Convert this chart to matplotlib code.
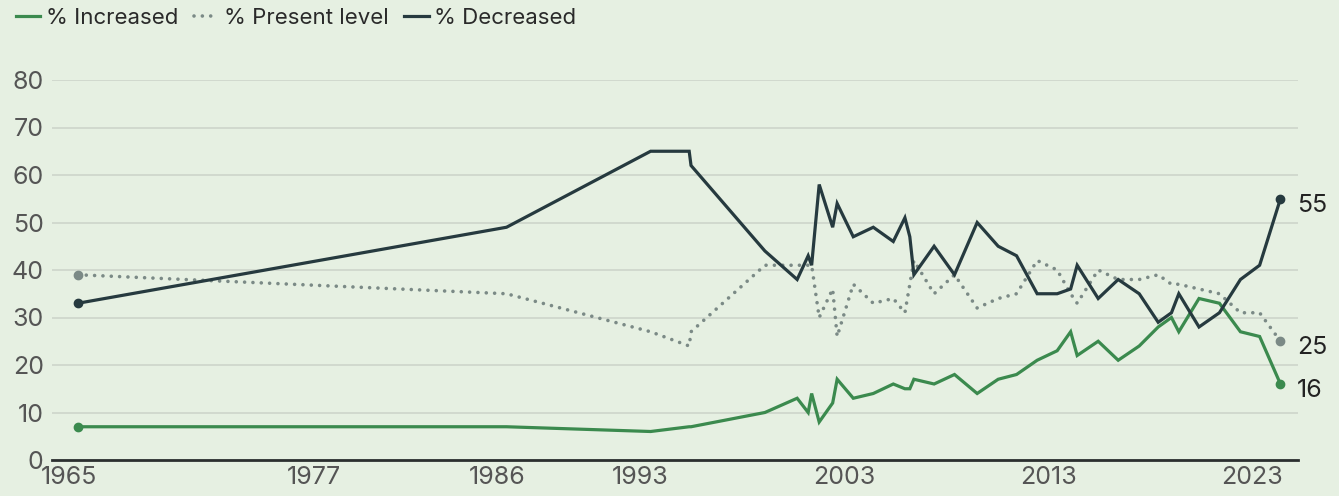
import matplotlib
matplotlib.use('Agg')
import matplotlib.pyplot as plt
from matplotlib.lines import Line2D

plt.rcParams['font.family'] = ['Inter', 'DejaVu Sans']

# survey dates as decimal years
years = [1965.45, 1986.45, 1993.51, 1995.40, 1995.49, 1999.11, 2000.69, 2001.23, 2001.40, 2001.77,
         2002.43, 2002.65, 2003.44, 2004.42, 2005.40, 2005.97, 2006.21, 2006.41, 2007.40, 2008.40,
         2009.51, 2010.54, 2011.44, 2012.45, 2013.43, 2014.09, 2014.41, 2015.44, 2016.42, 2017.45,
         2018.38, 2019.03, 2019.39, 2020.38, 2021.38, 2022.41, 2023.35, 2024.37]
increased = [7, 7, 6, 7, 7, 10, 13, 10, 14, 8,
             12, 17, 13, 14, 16, 15, 15, 17, 16, 18,
             14, 17, 18, 21, 23, 27, 22, 25, 21, 24,
             28, 30, 27, 34, 33, 27, 26, 16]
present = [39, 35, 27, 24, 27, 41, 41, 41, 41, 30,
           36, 26, 37, 33, 34, 31, 37, 42, 35, 39,
           32, 34, 35, 42, 40, 35, 33, 40, 38, 38,
           39, 37, 37, 36, 35, 31, 31, 25]
decreased = [33, 49, 65, 65, 62, 44, 38, 43, 41, 58,
             49, 54, 47, 49, 46, 51, 47, 39, 45, 39,
             50, 45, 43, 35, 35, 36, 41, 34, 38, 35,
             29, 31, 35, 28, 31, 38, 41, 55]

tick_years = [1965, 1977, 1986, 1993, 2003, 2013, 2023]
y_ticks = [0, 10, 20, 30, 40, 50, 60, 70, 80]

bg = '#e6f0e2'
c_inc = '#3b8a4e'
c_pres = '#7b8a86'
c_dec = '#263a3f'

fig = plt.figure(figsize=(13.39, 4.96), dpi=100, facecolor=bg)
ax = fig.add_axes([52 / 1339, 36 / 496, 1246 / 1339, 380 / 496])
ax.set_facecolor(bg)

ax.plot(years, present, color=c_pres, lw=2.6, linestyle=(0, (0.01, 2.3)),
        dash_capstyle='round', zorder=3)
ax.plot(years, increased, color=c_inc, lw=2.3, zorder=4, solid_joinstyle='miter')
ax.plot(years, decreased, color=c_dec, lw=2.3, zorder=5, solid_joinstyle='miter')

# end dots and start dots
for vals, col in [(present, c_pres), (increased, c_inc), (decreased, c_dec)]:
    ax.plot([years[0], years[-1]], [vals[0], vals[-1]], 'o', color=col, ms=6,
            zorder=6, clip_on=False)
    ax.annotate(str(vals[-1]), (years[-1], vals[-1]), xytext=(12, -4.5),
                textcoords='offset points', va='center', ha='left',
                fontsize=18, color='#222222')

ax.set_xlim(1964.18, 2025.23)
ax.set_ylim(0, 80)
ax.set_yticks(y_ticks)
ax.set_xticks(tick_years)
ax.set_xticklabels([str(y) for y in tick_years])
ax.tick_params(axis='both', length=0, labelsize=18, labelcolor='#555555')
ax.tick_params(axis='y', pad=6)
ax.tick_params(axis='x', pad=4)
ax.grid(axis='y', color='#cdd5ca', lw=1.2)
ax.set_axisbelow(True)
for s in ['top', 'right', 'left']:
    ax.spines[s].set_visible(False)
ax.spines['bottom'].set_color('#2b2f2f')
ax.spines['bottom'].set_linewidth(2)
ax.spines['bottom'].set_zorder(7)

handles = [
    Line2D([], [], color=c_inc, lw=2.3),
    Line2D([], [], color=c_pres, lw=2.6, linestyle=(0, (0.01, 2.3)), dash_capstyle='round'),
    Line2D([], [], color=c_dec, lw=2.3),
]
fig.legend(handles, ['% Increased', '% Present level', '% Decreased'],
           loc='upper left', bbox_to_anchor=(-0.003, 1.025), ncol=3, frameon=False,
           fontsize=16, handlelength=1.1, handletextpad=0.25, columnspacing=0.7,
           labelcolor='#2a2a2a')

fig.savefig('out.png', dpi=100, facecolor=bg)
